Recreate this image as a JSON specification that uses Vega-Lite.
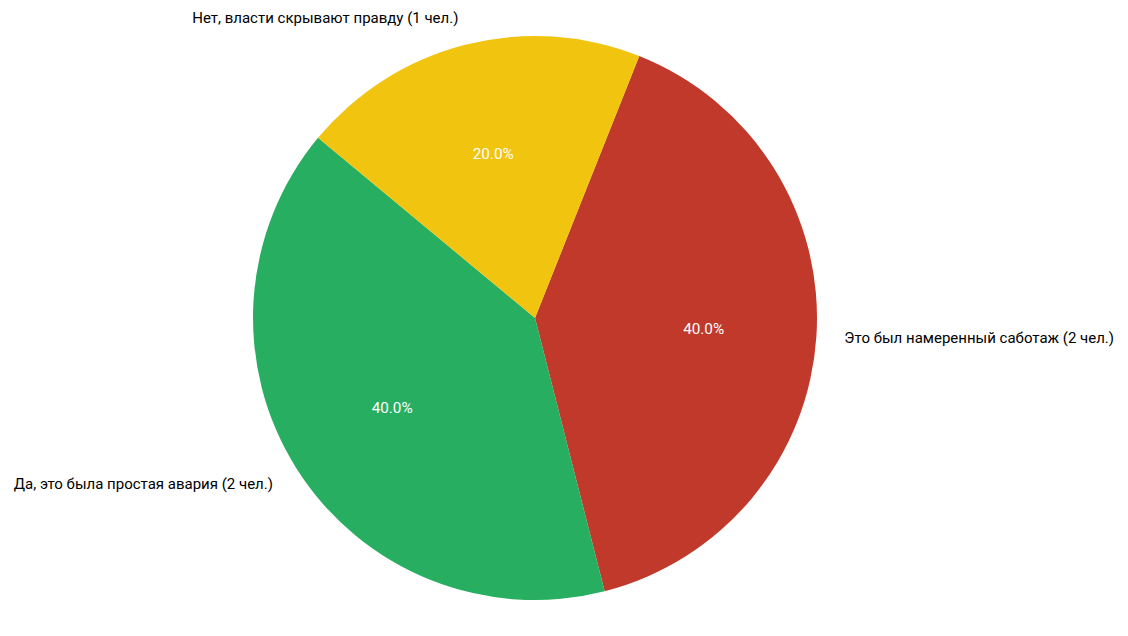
{
  "$schema": "https://vega.github.io/schema/vega-lite/v6.json",
  "autosize": "none",
  "width": 1070,
  "height": 636,
  "padding": {"left": 0, "top": 0, "right": 58, "bottom": 0},
  "background": "white",
  "config": {"view": {"stroke": null}, "font": "Roboto"},
  "data": {
    "values": [
      {"answer": "Это был намеренный саботаж", "label": "Это был намеренный саботаж (2 чел.)", "count": 2, "share": 0.4, "order": 1},
      {"answer": "Да, это была простая авария", "label": "Да, это была простая авария (2 чел.)", "count": 2, "share": 0.4, "order": 2},
      {"answer": "Нет, власти скрывают правду", "label": "Нет, власти скрывают правду (1 чел.)", "count": 1, "share": 0.2, "order": 3}
    ]
  },
  "encoding": {
    "theta": {"field": "count", "type": "quantitative", "stack": true, "scale": {"range": [0.3787, 6.6619]}},
    "order": {"field": "order", "type": "quantitative"},
    "color": {
      "field": "answer",
      "type": "nominal",
      "legend": null,
      "scale": {
        "domain": ["Это был намеренный саботаж", "Да, это была простая авария", "Нет, власти скрывают правду"],
        "range": ["#C0392B", "#27AE60", "#F1C40F"]
      }
    }
  },
  "layer": [
    {"mark": {"type": "arc", "outerRadius": 282}},
    {
      "mark": {"type": "text", "radius": 169, "fontSize": 15.3, "baseline": "middle"},
      "encoding": {"text": {"field": "share", "format": ".1%"}, "color": {"value": "white"}}
    },
    {
      "mark": {"type": "text", "radius": 310, "fontSize": 15, "align": "left", "baseline": "middle"},
      "encoding": {
        "text": {"condition": {"test": "datum.answer === 'Это был намеренный саботаж'", "field": "label"}, "value": ""},
        "color": {"value": "black"}
      }
    },
    {
      "mark": {"type": "text", "radius": 310, "fontSize": 15, "align": "right", "baseline": "middle"},
      "encoding": {
        "text": {"condition": {"test": "datum.answer !== 'Это был намеренный саботаж'", "field": "label"}, "value": ""},
        "color": {"value": "black"}
      }
    }
  ]
}
